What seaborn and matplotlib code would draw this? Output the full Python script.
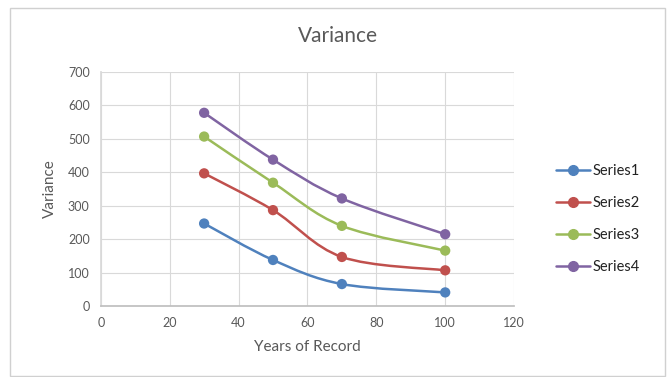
import numpy as np
import pandas as pd
import matplotlib
matplotlib.use("Agg")
import matplotlib.pyplot as plt
from matplotlib.path import Path
from matplotlib.patches import PathPatch, Rectangle
from matplotlib.lines import Line2D
import seaborn as sns

years = [30, 50, 70, 100]
series1 = [247, 138, 66, 41]
series2 = [397, 287, 147, 107]
series3 = [507, 369, 240, 166]
series4 = [578, 438, 322, 215]
series_names = ["Series1", "Series2", "Series3", "Series4"]
colors = ["#4F81BD", "#C0504D", "#9BBB59", "#8064A2"]
x_ticks = [0, 20, 40, 60, 80, 100, 120]
y_ticks = [0, 100, 200, 300, 400, 500, 600, 700]

sns.set_theme(style="white")
plt.rcParams["font.family"] = ["Lato", "DejaVu Sans"]

rows = []
for name, vals in zip(series_names, [series1, series2, series3, series4]):
    for x, v in zip(years, vals):
        rows.append({"Years of Record": x, "Variance": v, "Series": name})
df = pd.DataFrame(rows)

fig = plt.figure(figsize=(6.72, 3.77), dpi=100)
ax = fig.add_axes([0.150, 0.188, 0.615, 0.621])

# outer frame
fig.patches.append(Rectangle((9.5 / 672, 1 / 377), 655 / 672, 368.5 / 377, transform=fig.transFigure,
                             fill=False, edgecolor="#D0D0D0", linewidth=1.0))


def smooth_path(xs, ys):
    pts = np.column_stack([xs, ys]).astype(float)
    verts = [tuple(pts[0])]
    codes = [Path.MOVETO]
    n = len(pts)
    for i in range(n - 1):
        p0 = pts[i - 1] if i > 0 else pts[i]
        p1 = pts[i]
        p2 = pts[i + 1]
        p3 = pts[i + 2] if i + 2 < n else pts[i + 1]
        c1 = p1 + (p2 - p0) / 6.0
        c2 = p2 - (p3 - p1) / 6.0
        verts += [tuple(c1), tuple(c2), tuple(p2)]
        codes += [Path.CURVE4] * 3
    return Path(verts, codes)


for name, col in zip(series_names, colors):
    sub = df[df["Series"] == name]
    patch = PathPatch(smooth_path(sub["Years of Record"].values, sub["Variance"].values),
                      facecolor="none", edgecolor=col, linewidth=1.8, zorder=2)
    ax.add_patch(patch)

sns.scatterplot(data=df, x="Years of Record", y="Variance", hue="Series",
                palette=colors, s=55, edgecolor="none", ax=ax, zorder=3, legend=False)

ax.set_xlim(0, 120)
ax.set_ylim(0, 700)
ax.set_xticks(x_ticks)
ax.set_yticks(y_ticks)
ax.grid(True, color="#D9D9D9", linewidth=0.8)
ax.set_axisbelow(True)
for s in ["top", "right"]:
    ax.spines[s].set_visible(False)
ax.spines["left"].set_color("#D9D9D9")
ax.spines["bottom"].set_color("#BFBFBF")
ax.tick_params(axis="both", length=0, labelsize=9, colors="#595959", pad=8)
ax.set_xlabel("Years of Record", fontsize=11, color="#595959", labelpad=8)
ax.set_ylabel("Variance", fontsize=11, color="#595959", labelpad=8)

fig.text(0.503, 0.905, "Variance", ha="center", va="center", fontsize=15, color="#595959")

handles = [Line2D([0], [0], color=c, lw=1.8, marker="o", markersize=7) for c in colors]
fig.legend(handles, series_names, loc="center left", bbox_to_anchor=(0.828, 0.419),
           frameon=False, fontsize=10.5, labelcolor="#222222", handlelength=2.3,
           handletextpad=0.15, labelspacing=1.25, borderpad=0.0, borderaxespad=0.0)

fig.savefig("out.png", dpi=100)
